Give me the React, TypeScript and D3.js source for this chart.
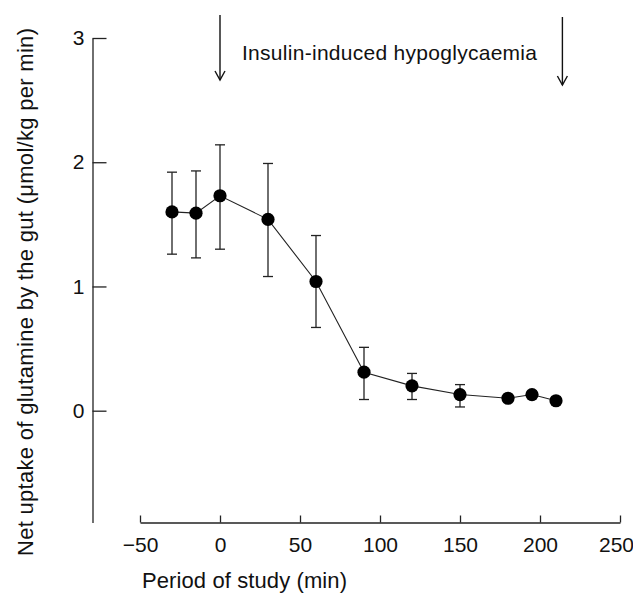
import React, { useEffect, useRef } from 'react';
import * as d3 from 'd3';

// Period of study (min)
const minutes = [-30, -15, 0, 30, 60, 90, 120, 150, 180, 195, 210];
// Net uptake of glutamine (µmol/kg per min)
const uptake = [1.6, 1.59, 1.73, 1.54, 1.04, 0.31, 0.2, 0.13, 0.1, 0.13, 0.08];
// error bar ends (null = hidden behind the marker)
const upper = [1.92, 1.93, 2.14, 1.99, 1.41, 0.51, 0.3, 0.21, null, null, null];
const lower = [1.26, 1.23, 1.3, 1.08, 0.67, 0.09, 0.09, 0.03, null, null, null];

const xTicks = [-50, 0, 50, 100, 150, 200, 250];
const yTicks = [0, 1, 2, 3];
const arrowMinutes = [0, 214];

const FONT = "'Liberation Sans', Arial, Helvetica, sans-serif";

export default function App() {
  const svgRef = useRef<SVGSVGElement>(null);
  const width = 633;
  const height = 597;

  useEffect(() => {
    if (!svgRef.current) return;
    const svg = d3.select(svgRef.current);
    svg.selectAll('*').remove();

    const x = d3.scaleLinear().domain([-50, 250]).range([140, 620]);
    const y = d3.scaleLinear().domain([-0.9, 3]).range([522.5, 38]);

    const points = minutes.map((m, i) => ({ m, v: uptake[i], hi: upper[i], lo: lower[i] }));

    // y axis, ticks pointing inwards
    const yAxis = d3.axisLeft(y).tickValues(yTicks).tickSize(-14).tickSizeOuter(0).tickPadding(8)
      .tickFormat(d3.format('d'));
    const gy = svg.append('g').attr('transform', 'translate(92.5,0)').call(yAxis);
    gy.select('.domain').attr('stroke', '#222').attr('stroke-width', 1.3);
    gy.selectAll('.tick line').attr('stroke', '#222').attr('stroke-width', 1.3);
    gy.selectAll('.tick text').style('font-family', FONT).style('font-size', '21px').attr('fill', '#111');

    // x axis, ticks pointing up
    const xAxis = d3.axisBottom(x).tickValues(xTicks).tickSize(-7).tickSizeOuter(0).tickPadding(15);
    const gx = svg.append('g').attr('transform', 'translate(0,522.5)').call(xAxis);
    gx.select('.domain').attr('stroke', '#222').attr('stroke-width', 1.3);
    gx.selectAll('.tick line').attr('stroke', '#222').attr('stroke-width', 1.3);
    gx.selectAll('.tick text').style('font-family', FONT).style('font-size', '21px').attr('fill', '#111');
    // last label sits against the right edge in the reference
    gx.selectAll<SVGTextElement, number>('.tick text').filter(d => d === 250).attr('dx', -4);

    // connecting line
    svg.append('path')
      .datum(points)
      .attr('fill', 'none')
      .attr('stroke', '#222')
      .attr('stroke-width', 1.1)
      .attr('d', d3.line<any>().x(d => x(d.m)).y(d => y(d.v)));

    // error bars
    const bars = points.filter(d => d.hi !== null);
    const eb = svg.append('g').attr('stroke', '#222').attr('stroke-width', 1.3);
    bars.forEach(d => {
      eb.append('line').attr('x1', x(d.m)).attr('x2', x(d.m)).attr('y1', y(d.hi!)).attr('y2', y(d.lo!));
      [d.hi!, d.lo!].forEach(v => {
        eb.append('line').attr('x1', x(d.m) - 5).attr('x2', x(d.m) + 5).attr('y1', y(v)).attr('y2', y(v));
      });
    });

    // markers
    svg.append('g')
      .selectAll('circle')
      .data(points)
      .enter()
      .append('circle')
      .attr('cx', d => x(d.m))
      .attr('cy', d => y(d.v))
      .attr('r', 6.6)
      .attr('fill', '#000');

    // arrows marking the insulin period
    const arrowTops = [15, 17];
    const arrowBottoms = [80, 85];
    arrowMinutes.forEach((m, i) => {
      const ax = x(m);
      const g = svg.append('g').attr('stroke', '#111').attr('stroke-width', 1.4).attr('fill', 'none');
      g.append('line').attr('x1', ax).attr('x2', ax).attr('y1', arrowTops[i]).attr('y2', arrowBottoms[i]);
      g.append('path').attr('d', `M${ax - 5},${arrowBottoms[i] - 9}L${ax},${arrowBottoms[i]}L${ax + 5},${arrowBottoms[i] - 9}`);
    });

    svg.append('text')
      .attr('x', 242)
      .attr('y', 60)
      .style('font-family', FONT)
      .style('font-size', '21px')
      .attr('fill', '#111')
      .attr('textLength', 295)
      .text('Insulin-induced hypoglycaemia');

    // axis titles
    svg.append('text')
      .attr('x', 244.5)
      .attr('y', 588)
      .attr('text-anchor', 'middle')
      .style('font-family', FONT)
      .style('font-size', '22px')
      .attr('fill', '#111')
      .attr('textLength', 205)
      .text('Period of study (min)');

    svg.append('text')
      .attr('transform', 'translate(33,292) rotate(-90)')
      .attr('text-anchor', 'middle')
      .style('font-family', FONT)
      .style('font-size', '22px')
      .attr('fill', '#111')
      .attr('textLength', 528)
      .text('Net uptake of glutamine by the gut (\u03bcmol/kg per min)');
  }, []);

  return (
    <svg
      ref={svgRef}
      width={width}
      height={height}
      style={{ position: 'absolute', left: 0, top: 0, background: '#fff' }}
    />
  );
}
